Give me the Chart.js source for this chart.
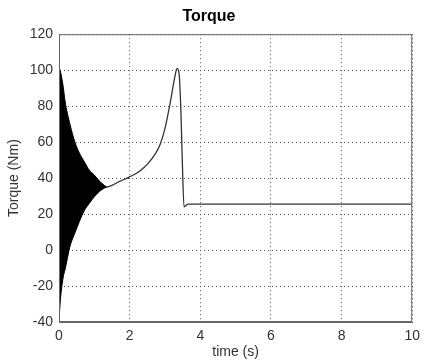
<!DOCTYPE html>
<html lang="en">
<head>
    <meta charset="UTF-8">
    <title>Torque</title>
    <script src="https://cdn.jsdelivr.net/npm/chart.js"></script>
    <style>
        body {
            margin: 0;
            background: #ffffff;
        }
        #wrap {
            width: 426px;
            height: 363px;
        }
    </style>
</head>
<body>
    <div id="wrap"><canvas id="torqueChart"></canvas></div>

    <script>
        // start-up oscillation: envelope
        const envTime  = [0, 0.03, 0.12, 0.17, 0.31, 0.45, 0.58, 0.72, 0.86, 1.0, 1.14, 1.28, 1.36];
        const envUpper = [101, 100, 90.7, 83, 70, 60, 53.8, 49, 44.4, 41.7, 38.5, 36, 35];
        const envLower = [-40, -30, -15, -11, 2, 9.5, 16, 22, 26, 29.6, 32.5, 34.4, 35];

        // torque after the oscillation dies out
        const torqueTime  = [1.36, 1.5, 1.7, 2.0, 2.26, 2.4, 2.53, 2.72, 2.86, 3.0, 3.14, 3.28, 3.34, 3.4, 3.45, 3.49, 3.54, 3.58, 3.65, 10];
        const torqueValue = [35, 36, 38, 40.7, 43.5, 45.8, 48.3, 53.3, 58.5, 67.5, 81, 96.3, 101, 98, 78, 50, 24, 24.5, 25.5, 25.5];

        const xTicks = [0, 2, 4, 6, 8, 10];
        const yTicks = [-40, -20, 0, 20, 40, 60, 80, 100, 120];

        const pts = (xs, ys) => xs.map((x, i) => ({ x: x, y: ys[i] }));

        // MATLAB style box round the axes
        const boxPlugin = {
            id: "box",
            afterDraw(chart) {
                const a = chart.chartArea;
                const ctx = chart.ctx;
                ctx.save();
                ctx.strokeStyle = "#666";
                ctx.lineWidth = 1;
                ctx.strokeRect(a.left + 0.5, a.top + 0.5, a.right - a.left - 1, a.bottom - a.top - 1);
                ctx.restore();
            }
        };

        const font = { family: "'Liberation Sans', Arial, sans-serif", size: 14 };

        const ctx = document.getElementById("torqueChart").getContext("2d");
        new Chart(ctx, {
            type: "line",
            data: {
                datasets: [
                    {
                        data: pts(envTime, envUpper),
                        borderColor: "#000",
                        backgroundColor: "#000",
                        borderWidth: 1,
                        pointRadius: 0,
                        cubicInterpolationMode: "monotone",
                        fill: "+1"
                    },
                    {
                        data: pts(envTime, envLower),
                        borderColor: "#000",
                        borderWidth: 1,
                        pointRadius: 0,
                        cubicInterpolationMode: "monotone",
                        fill: false
                    },
                    {
                        data: pts(torqueTime, torqueValue),
                        borderColor: "#333",
                        borderWidth: 1.3,
                        pointRadius: 0,
                        cubicInterpolationMode: "monotone",
                        fill: false
                    }
                ]
            },
            options: {
                responsive: true,
                maintainAspectRatio: false,
                animation: false,
                layout: {
                    padding: { left: 0, right: 8, top: 0, bottom: 0 }
                },
                scales: {
                    x: {
                        type: "linear",
                        min: 0,
                        max: 10,
                        afterBuildTicks: (s) => { s.ticks = xTicks.map(v => ({ value: v })); },
                        afterFit: (s) => { s.height = 41; },
                        ticks: { color: "#333", padding: 6, font: font },
                        grid: { color: "#555", drawTicks: false },
                        border: { color: "#666", dash: [1, 3] },
                        title: {
                            display: true,
                            text: "time (s)",
                            color: "#333",
                            padding: { top: 0, bottom: 2 },
                            font: font
                        }
                    },
                    y: {
                        type: "linear",
                        min: -40,
                        max: 120,
                        afterBuildTicks: (s) => { s.ticks = yTicks.map(v => ({ value: v })); },
                        afterFit: (s) => { s.width = 59; },
                        ticks: { color: "#333", padding: 6, font: font },
                        grid: { color: "#555", drawTicks: false },
                        border: { color: "#666", dash: [1, 3] },
                        title: {
                            display: true,
                            text: "Torque (Nm)",
                            color: "#333",
                            padding: { top: 6, bottom: 0 },
                            font: font
                        }
                    }
                },
                plugins: {
                    legend: { display: false },
                    tooltip: { enabled: false },
                    title: {
                        display: true,
                        text: "Torque",
                        color: "#000",
                        padding: { top: 7, bottom: 8 },
                        font: { family: "'Liberation Sans', Arial, sans-serif", size: 16, weight: "bold" }
                    }
                }
            },
            plugins: [boxPlugin]
        });
    </script>
</body>
</html>
